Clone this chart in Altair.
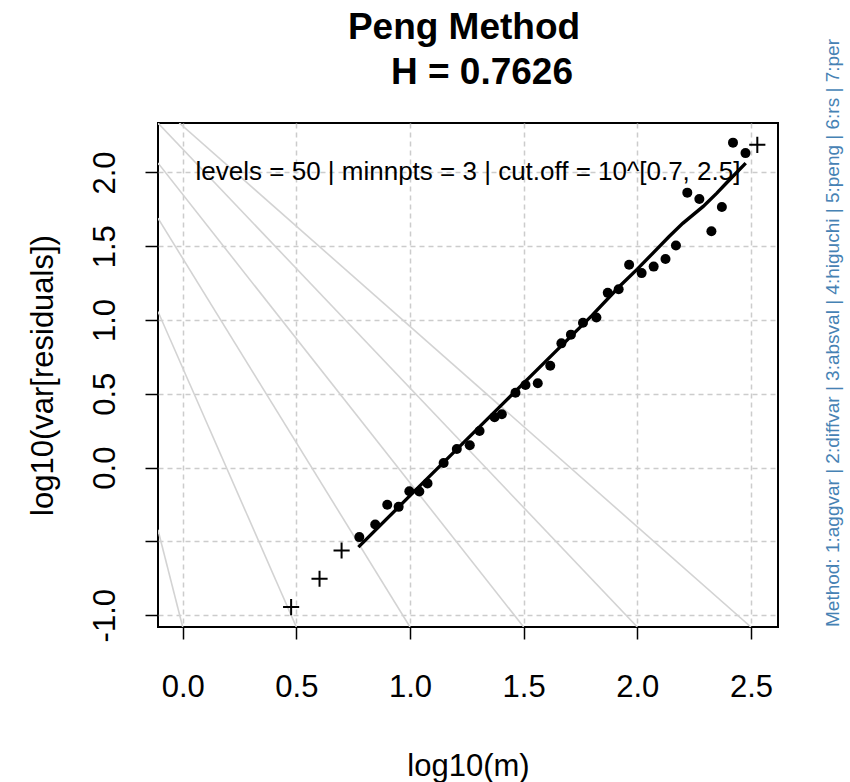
import altair as alt
import pandas as pd

# ---------------- data ----------------
pts_x = [0.777, 0.847, 0.900, 0.950, 0.997, 1.041, 1.077, 1.148, 1.206, 1.263,
         1.306, 1.372, 1.404, 1.464, 1.508, 1.562, 1.617, 1.666, 1.708, 1.761,
         1.820, 1.870, 1.918, 1.964, 2.019, 2.072, 2.124, 2.170, 2.220, 2.273,
         2.326, 2.372, 2.421, 2.476]
pts_y = [-0.471, -0.385, -0.252, -0.266, -0.160, -0.162, -0.107, 0.031, 0.126, 0.152,
         0.248, 0.342, 0.362, 0.507, 0.560, 0.572, 0.690, 0.842, 0.901, 0.981,
         1.017, 1.184, 1.208, 1.374, 1.318, 1.362, 1.413, 1.505, 1.863, 1.820,
         1.602, 1.766, 2.202, 2.131]

# points outside the cut-off range (plotted as +)
out_x = [0.477, 0.602, 0.699, 2.528]
out_y = [-0.945, -0.753, -0.562, 2.187]

# fitted curve
fit_x = [0.773, 1.000, 1.200, 1.400, 1.600, 1.800, 1.920, 2.000, 2.070, 2.140,
         2.200, 2.290, 2.350, 2.390, 2.477]
fit_y = [-0.539, -0.190, 0.115, 0.420, 0.725, 1.030, 1.225, 1.345, 1.455, 1.566,
         1.655, 1.770, 1.860, 1.925, 2.063]

# light grey reference lines (pairs of end points)
ref_id = ["A", "A", "B", "B", "C", "C", "D", "D", "E", "E", "F", "F"]
ref_x = [-0.015, 2.5, -0.109, 2.0, -0.109, 1.5, -0.109, 1.0, -0.109, 0.5, -0.109, 0.0]
ref_y = [2.335, -1.08, 2.335, -1.08, 2.064, -1.08, 1.690, -1.08, 1.058, -1.08, -0.421, -1.08]

x_ticks = [0.0, 0.5, 1.0, 1.5, 2.0, 2.5]
y_ticks = [-1.0, -0.5, 0.0, 0.5, 1.0, 1.5, 2.0]
y_tick_labels = ["-1.0", "", "0.0", "0.5", "1.0", "1.5", "2.0"]

x_domain = [-0.1087, 2.619]
y_domain = [-1.080, 2.335]

title_line1 = "Peng Method"
title_line2 = "H = 0.7626"
annotation = "levels = 50 | minnpts = 3 | cut.off = 10^[0.7, 2.5]"
method_text = "Method: 1:aggvar | 2:diffvar | 3:absval | 4:higuchi | 5:peng | 6:rs | 7:per"

FONT = "Liberation Sans"

# ---------------- build ----------------
pts_df = pd.DataFrame({"x": pts_x, "y": pts_y})
out_df = pd.DataFrame({"x": out_x, "y": out_y})
fit_df = pd.DataFrame({"x": fit_x, "y": fit_y})
ref_df = pd.DataFrame({"id": ref_id, "x": ref_x, "y": ref_y})

label_expr = ""
for v, lab in zip(y_ticks, y_tick_labels):
    label_expr += f"datum.value == {v} ? '{lab}' : "
label_expr += "''"

grid_kw = dict(grid=True, gridColor="#cccccc", gridDash=[5, 4], gridWidth=1.5)

x_enc = alt.X("x:Q",
              scale=alt.Scale(domain=x_domain, nice=False, zero=False),
              axis=alt.Axis(values=x_ticks, format=".1f", title="log10(m)",
                            labelFontSize=31, titleFontSize=31, titleFontWeight="normal",
                            labelFont=FONT, titleFont=FONT, labelColor="black", titleColor="black",
                            tickSize=12, tickColor="black", tickWidth=1.5, domain=False,
                            labelPadding=33, titlePadding=49, labelFlush=False,
                            **grid_kw))
y_enc = alt.Y("y:Q",
              scale=alt.Scale(domain=y_domain, nice=False, zero=False),
              axis=alt.Axis(values=y_ticks, labelExpr=label_expr, title="log10(var[residuals])",
                            labelFontSize=31, titleFontSize=31, titleFontWeight="normal",
                            labelFont=FONT, titleFont=FONT, labelColor="black", titleColor="black",
                            labelAngle=270, labelAlign="center", labelBaseline="bottom",
                            tickSize=13, tickColor="black", tickWidth=1.5, domain=False,
                            labelPadding=24, titlePadding=30, labelFlush=False,
                            labelOverlap=False, **grid_kw))

base_x = alt.X("x:Q", scale=alt.Scale(domain=x_domain, nice=False, zero=False))
base_y = alt.Y("y:Q", scale=alt.Scale(domain=y_domain, nice=False, zero=False))

ref_layer = alt.Chart(ref_df).mark_line(color="#d3d3d3", strokeWidth=1.6, clip=True).encode(
    x=x_enc, y=y_enc, detail="id:N")

fit_layer = alt.Chart(fit_df).mark_line(color="black", strokeWidth=3.4, clip=True).encode(
    x=base_x, y=base_y)

pts_layer = alt.Chart(pts_df).mark_circle(color="black", size=100, opacity=1).encode(
    x=base_x, y=base_y)

out_layer = alt.Chart(out_df).mark_point(shape="M-1,0L1,0M0,-1L0,1", filled=False,
                                         color="black", size=260, strokeWidth=2,
                                         opacity=1).encode(x=base_x, y=base_y)


def text_layer(txt, xpx, ypx, size, **kw):
    return alt.Chart(pd.DataFrame({"t": [txt]})).mark_text(
        font=FONT, fontSize=size, **kw).encode(
        x=alt.value(xpx), y=alt.value(ypx), text="t:N")


annot_layer = text_layer(annotation, 310, 49, 26, color="black", align="center",
                         baseline="middle")
method_layer = text_layer(method_text, 675, 504, 19, color="steelblue", align="left",
                          baseline="middle", angle=270)
title1_layer = text_layer(title_line1, 306, -95, 37, color="black", align="center",
                          baseline="middle", fontWeight="bold")
title2_layer = text_layer(title_line2, 324, -50, 37, color="black", align="center",
                          baseline="middle", fontWeight="bold")

chart = alt.layer(ref_layer, fit_layer, pts_layer, out_layer, annot_layer, method_layer,
                  title1_layer, title2_layer).properties(
    width=620, height=504,
    autosize=alt.AutoSizeParams(type="none"),
    padding={"left": 158, "top": 123, "right": 72, "bottom": 155},
    background="white",
).configure_view(stroke="black", strokeWidth=2)

chart.save("out.html", embed_options={"renderer": "svg", "actions": False})
